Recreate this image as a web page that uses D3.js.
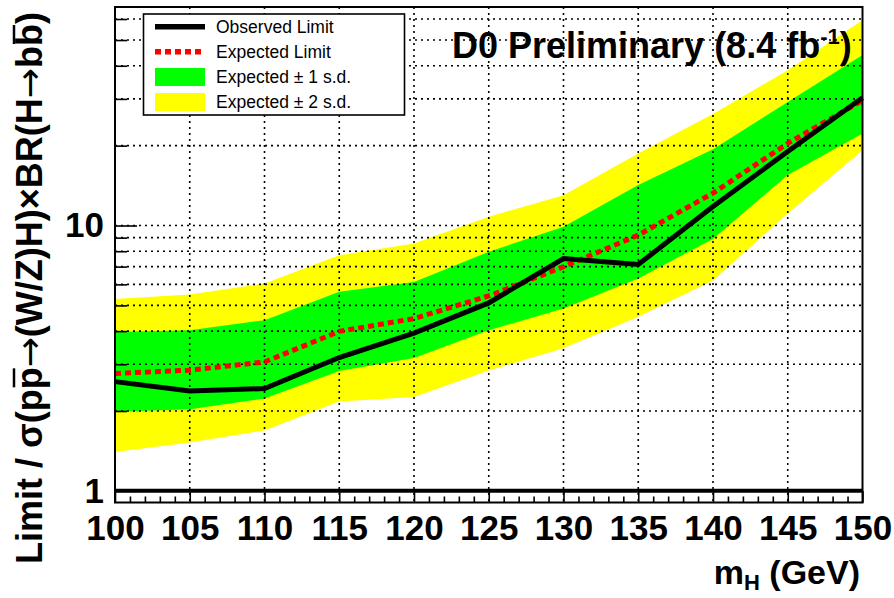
<!DOCTYPE html>
<html>
<head>
<meta charset="utf-8">
<script src="https://cdn.jsdelivr.net/npm/d3@7"></script>
<style>
  html, body { margin: 0; padding: 0; background: #fff; }
  svg { display: block; }
  text { font-family: "Liberation Sans", Arial, Helvetica, sans-serif; fill: #000; }
</style>
</head>
<body>
<svg id="chart" width="894" height="598"></svg>
<script>
// Higgs mass points (GeV)
const masses = [100, 105, 110, 115, 120, 125, 130, 135, 140, 145, 150];
// Limits on sigma x BR relative to the SM prediction
const observed = [2.58, 2.38, 2.43, 3.18, 3.93, 5.11, 7.51, 7.13, 11.8, 19.0, 30.3];
const expected = [2.77, 2.85, 3.06, 3.99, 4.46, 5.43, 6.99, 9.2, 13.25, 20.4, 29.6];
const minus2sd = [1.40, 1.52, 1.69, 2.17, 2.26, 2.84, 3.45, 4.53, 6.2, 11.1, 19.2];
const minus1sd = [1.985, 2.03, 2.23, 2.83, 3.17, 4.03, 4.87, 6.32, 8.9, 15.5, 22.2];
const plus1sd = [3.97, 4.03, 4.40, 5.63, 6.13, 7.96, 9.89, 14.2, 19.4, 29.2, 43.9];
const plus2sd = [5.28, 5.50, 6.05, 7.73, 8.56, 10.8, 13.0, 18.7, 26.3, 38.5, 59.4];

// Axis ticks
const xMajorTicks = [100, 105, 110, 115, 120, 125, 130, 135, 140, 145, 150];
const xMinorTicks = d3.range(100, 151, 1).filter(v => v % 5 !== 0);
const yMajorTicks = [1, 10];
const yMinorTicks = [2, 3, 4, 5, 6, 7, 8, 9, 20, 30, 40, 50, 60];
const xGridValues = [105, 110, 115, 120, 125, 130, 135, 140, 145];
const yGridValues = [2, 3, 4, 5, 6, 7, 8, 9, 10, 20, 30, 40, 50, 60];

const legendItems = [
  { label: "Observed Limit", kind: "line", color: "#000000" },
  { label: "Expected Limit", kind: "dash", color: "#ff0000" },
  { label: "Expected \u00b1 1 s.d.", kind: "box", color: "#00ff00" },
  { label: "Expected \u00b1 2 s.d.", kind: "box", color: "#ffff00" }
];

const plot = { left: 115, right: 862.5, top: 7, bottom: 502.5 };

const svg = d3.select("#chart");
svg.append("rect").attr("width", 894).attr("height", 598).attr("fill", "#fff");

const x = d3.scaleLinear().domain([100, 150]).range([plot.left, plot.right]);
const y = d3.scaleLog().domain([0.904, 66.6]).range([plot.bottom, plot.top]);

svg.append("clipPath").attr("id", "plotClip")
  .append("rect")
  .attr("x", plot.left).attr("y", plot.top)
  .attr("width", plot.right - plot.left).attr("height", plot.bottom - plot.top);

const rows = masses.map((m, i) => ({
  m, obs: observed[i], exp: expected[i],
  m2: minus2sd[i], m1: minus1sd[i], p1: plus1sd[i], p2: plus2sd[i]
}));

// Uncertainty bands
const bands = svg.append("g").attr("clip-path", "url(#plotClip)");
bands.append("path").datum(rows)
  .attr("fill", "#ffff00")
  .attr("d", d3.area().x(d => x(d.m)).y0(d => y(d.m2)).y1(d => y(d.p2)));
bands.append("path").datum(rows)
  .attr("fill", "#00ff00")
  .attr("d", d3.area().x(d => x(d.m)).y0(d => y(d.m1)).y1(d => y(d.p1)));

// Dotted grid
const grid = svg.append("g")
  .attr("stroke", "#000").attr("stroke-width", 1.6).attr("stroke-dasharray", "2,4");
grid.selectAll("line.v").data(xGridValues).join("line").attr("class", "v")
  .attr("x1", d => x(d)).attr("x2", d => x(d))
  .attr("y1", plot.top).attr("y2", plot.bottom);
grid.selectAll("line.h").data(yGridValues).join("line").attr("class", "h")
  .attr("x1", plot.left).attr("x2", plot.right)
  .attr("y1", d => y(d)).attr("y2", d => y(d));

// Reference line at ratio = 1
svg.append("line")
  .attr("x1", x(100)).attr("x2", x(150))
  .attr("y1", y(1)).attr("y2", y(1))
  .attr("stroke", "#000").attr("stroke-width", 4);

// Limit curves
svg.append("path").datum(rows)
  .attr("fill", "none").attr("stroke", "#ff0000").attr("stroke-width", 5)
  .attr("stroke-dasharray", "6,4")
  .attr("d", d3.line().x(d => x(d.m)).y(d => y(d.exp)));
svg.append("path").datum(rows)
  .attr("fill", "none").attr("stroke", "#000").attr("stroke-width", 5)
  .attr("stroke-linejoin", "miter")
  .attr("d", d3.line().x(d => x(d.m)).y(d => y(d.obs)));

// Axes
const axisFont = 35;
function styleAxis(g) {
  g.select(".domain").remove();
  g.selectAll(".tick line").attr("stroke", "#000").attr("stroke-width", 1.6);
  g.selectAll(".tick text")
    .attr("font-size", axisFont).attr("font-weight", "bold")
    .attr("font-family", "'Liberation Sans', Arial, Helvetica, sans-serif");
}

svg.append("g").attr("transform", `translate(0,${plot.bottom})`)
  .call(d3.axisBottom(x).tickValues(xMinorTicks).tickSize(-6).tickFormat(""))
  .call(styleAxis);
svg.append("g").attr("transform", `translate(0,${plot.bottom})`)
  .call(d3.axisBottom(x).tickValues(xMajorTicks).tickSize(-11.5).tickPadding(13).tickFormat(d3.format("d")))
  .call(styleAxis);

svg.append("g").attr("transform", `translate(${plot.left},0)`)
  .call(d3.axisLeft(y).tickValues(yMinorTicks).tickSize(-12).tickFormat(""))
  .call(styleAxis);
svg.append("g").attr("transform", `translate(${plot.left},0)`)
  .call(d3.axisLeft(y).tickValues(yMajorTicks).tickSize(-22).tickPadding(11).tickFormat(d3.format("d")))
  .call(styleAxis);

// Frame
svg.append("rect")
  .attr("x", plot.left).attr("y", plot.top)
  .attr("width", plot.right - plot.left).attr("height", plot.bottom - plot.top)
  .attr("fill", "none").attr("stroke", "#000").attr("stroke-width", 2);

// Legend
const lg = svg.append("g");
lg.append("rect")
  .attr("x", 143.5).attr("y", 14).attr("width", 261).attr("height", 101)
  .attr("fill", "#fff").attr("stroke", "#000").attr("stroke-width", 1.6);
const rowY = [26.7, 51.7, 77, 102];
legendItems.forEach((it, i) => {
  const cy = rowY[i];
  if (it.kind === "box") {
    lg.append("rect").attr("x", 155).attr("y", cy - 9).attr("width", 50).attr("height", 18)
      .attr("fill", it.color);
  } else {
    lg.append("line").attr("x1", 155).attr("x2", 205).attr("y1", cy).attr("y2", cy)
      .attr("stroke", it.color).attr("stroke-width", 5.5)
      .attr("stroke-dasharray", it.kind === "dash" ? "6,4" : null);
  }
  lg.append("text").attr("x", 216).attr("y", cy + 6.3)
    .attr("font-size", 17.5).text(it.label);
});

// Title
const title = svg.append("text").attr("x", 452).attr("y", 58)
  .attr("font-size", 36).attr("font-weight", "bold");
title.append("tspan").text("D0 Preliminary (8.4 fb");
title.append("tspan").attr("font-size", 22).attr("dy", -14).text("-1");
title.append("tspan").attr("dy", 14).text(")");

// X axis title
const xt = svg.append("text").attr("x", 860).attr("y", 584)
  .attr("text-anchor", "end").attr("font-size", 34).attr("font-weight", "bold");
xt.append("tspan").text("m");
xt.append("tspan").attr("font-size", 22).attr("dy", 6).text("H");
xt.append("tspan").attr("dy", -6).text(" (GeV)");

// Y axis title with overlined antiparticles
const yg = svg.append("g").attr("transform", "translate(42,288) rotate(-90)");
const yt = yg.append("text").attr("x", 0).attr("y", 0)
  .attr("text-anchor", "middle").attr("font-size", 36).attr("font-weight", "bold");
const yParts = [
  { s: "Limit / \u03c3(p" },
  { s: "p", bar: true },
  { s: "\u2192", arrow: true },
  { s: "(W/Z)H)\u00d7BR(H" },
  { s: "\u2192", arrow: true },
  { s: "b" },
  { s: "b", bar: true },
  { s: ")" }
];
yParts.forEach(p => {
  const t = yt.append("tspan").text(p.s);
  if (p.arrow) t.attr("font-family", "'DejaVu Sans', sans-serif").attr("font-weight", "normal");
});
let charIndex = 0;
yParts.forEach(p => {
  if (p.bar) {
    const ext = yt.node().getExtentOfChar(charIndex);
    yg.append("line")
      .attr("x1", ext.x + 2).attr("x2", ext.x + ext.width - 1)
      .attr("y1", -28).attr("y2", -28)
      .attr("stroke", "#000").attr("stroke-width", 2.5);
  }
  charIndex += p.s.length;
});
</script>
</body>
</html>
